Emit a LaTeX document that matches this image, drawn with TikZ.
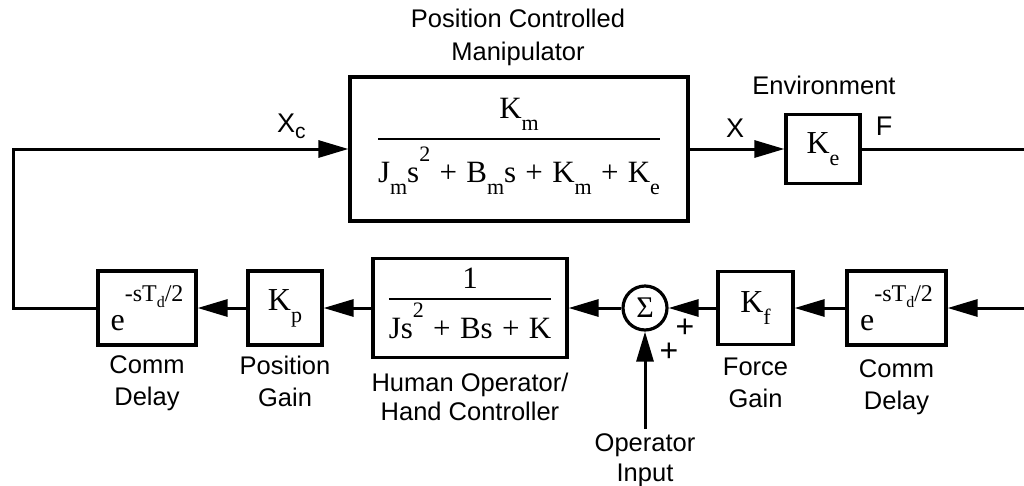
\documentclass[tikz,border=0pt]{standalone}
\usepackage{fontspec}
\setmainfont{Liberation Sans}
\newfontfamily\tmsfont{Liberation Serif}
\usetikzlibrary{shapes.geometric, arrows.meta, positioning}
\setlength{\arrayrulewidth}{2.4pt}

% lowered index and raised power in the blocks
\newcommand{\lo}[1]{\raisebox{-12pt}{\fontsize{22}{22}\selectfont #1}}
\newcommand{\hi}[1]{\raisebox{21pt}{\fontsize{22}{22}\selectfont #1}}
\newcommand{\pls}{\hspace{0.3em}+\hspace{0.3em}}
\newcommand{\delayexp}{e\raisebox{29pt}{\fontsize{24}{24}\selectfont -sT\raisebox{-6pt}{\fontsize{16}{16}\selectfont d}/2}}

\begin{document}
\begin{tikzpicture}[
    x=1pt, y=-1pt,
    base/.style={draw, line width=3.2pt, align=center, inner sep=0pt},
    block/.style={base, rectangle, font=\tmsfont\fontsize{31}{32}\selectfont},
    gain/.style={base, rectangle, font=\tmsfont\fontsize{32}{34}\selectfont},
    junction/.style={base, circle, minimum size=44pt, font=\tmsfont\fontsize{30}{30}\selectfont},
    caption/.style={align=center, inner sep=0pt, font=\fontsize{25.5}{32}\selectfont},
    signal/.style={inner sep=0pt, font=\fontsize{27}{27}\selectfont},
    arrow/.style={-{Triangle[length=30pt, width=17pt]}, line width=3pt}
]
    \useasboundingbox (0,0) rectangle (1024,485);

    % forward path
    \node [block, minimum width=338pt, minimum height=144pt] (manip) at (519,149)
        {\begin{tabular}{@{}c@{}}
         K\lo{m}\rule[-20pt]{0pt}{0pt}\\ \hline
         \rule{0pt}{42pt}J\lo{m}s\hi{2}\pls B\lo{m}s\pls K\lo{m}\pls K\lo{e}\rule[-20pt]{0pt}{0pt}
         \end{tabular}};
    \node [gain, minimum width=74pt, minimum height=69pt] (ke) at (823,149) {K\lo{e}};

    % feedback path
    \node [gain, minimum width=99pt, minimum height=74pt] (cdr) at (896.5,308) {\delayexp};
    \node [gain, minimum width=75pt, minimum height=73pt] (kf) at (755.5,308) {K\lo{f}};
    \node [junction] (sum) at (645,308) {Σ};
    \node [block, minimum width=194pt, minimum height=99pt] (human) at (470,308)
        {\begin{tabular}{@{}c@{}}
         1\rule[-10pt]{0pt}{0pt}\\ \hline
         \rule{0pt}{38pt}Js\hi{2}\pls Bs\pls K\rule[-12pt]{0pt}{0pt}
         \end{tabular}};
    \node [gain, minimum width=74pt, minimum height=74pt] (kp) at (285,308) {K\lo{p}};
    \node [gain, minimum width=98pt, minimum height=74pt] (cdl) at (147,308) {\delayexp};

    % captions
    \node [caption, font=\fontsize{25.5}{33}\selectfont] (manipname) at (518,37) {Position Controlled\\Manipulator};
    \node [caption] (envname) at (824,85) {Environment};
    \node [caption] (cdlname) [below=9pt of cdl] {Comm\\Delay};
    \node [caption] (kpname) [below=9pt of kp] {Position\\Gain};
    \node [caption, font=\fontsize{25.5}{29}\selectfont] (humanname) [below=14pt of human] {Human Operator/\\Hand Controller};
    \node [caption] (kfname) [below=12pt of kf] {Force\\Gain};
    \node [caption] (cdrname) [below=13pt of cdr] {Comm\\Delay};
    \node [caption, inner sep=4pt, anchor=north, font=\fontsize{25.5}{30}\selectfont] (opin) at (645,429) {Operator\\Input};

    % signal names and signs
    \node [signal, anchor=base west] (xc) at (277,132) {X\raisebox{-6pt}{\fontsize{21}{21}\selectfont c}};
    \node [signal, anchor=base] (x) at (735,137) {X};
    \node [signal, anchor=base] (f) at (884,135) {F};
    \node [signal, font=\fontsize{32}{32}\selectfont] (plusf) at (685,328) {+};
    \node [signal, font=\fontsize{32}{32}\selectfont] (plusop) at (669,352) {+};

    \coordinate (lcorner) at (13,308);
    \coordinate (redgetop) at (1024,149);
    \coordinate (redgebot) at (1024,308);

    \draw [arrow] (cdl.west) -- (lcorner) |- (manip.west);
    \draw [arrow] (manip.east) -- (ke.west);
    \draw [line width=3pt] (ke.east) -- (redgetop);
    \draw [arrow] (redgebot) -- (cdr.east);
    \draw [arrow] (cdr.west) -- (kf.east);
    \draw [arrow] (kf.west) -- (sum.east);
    \draw [arrow] (opin.north) -- (sum.south);
    \draw [arrow] (sum.west) -- (human.east);
    \draw [arrow] (human.west) -- (kp.east);
    \draw [arrow] (kp.west) -- (cdl.east);

\end{tikzpicture}
\end{document}
